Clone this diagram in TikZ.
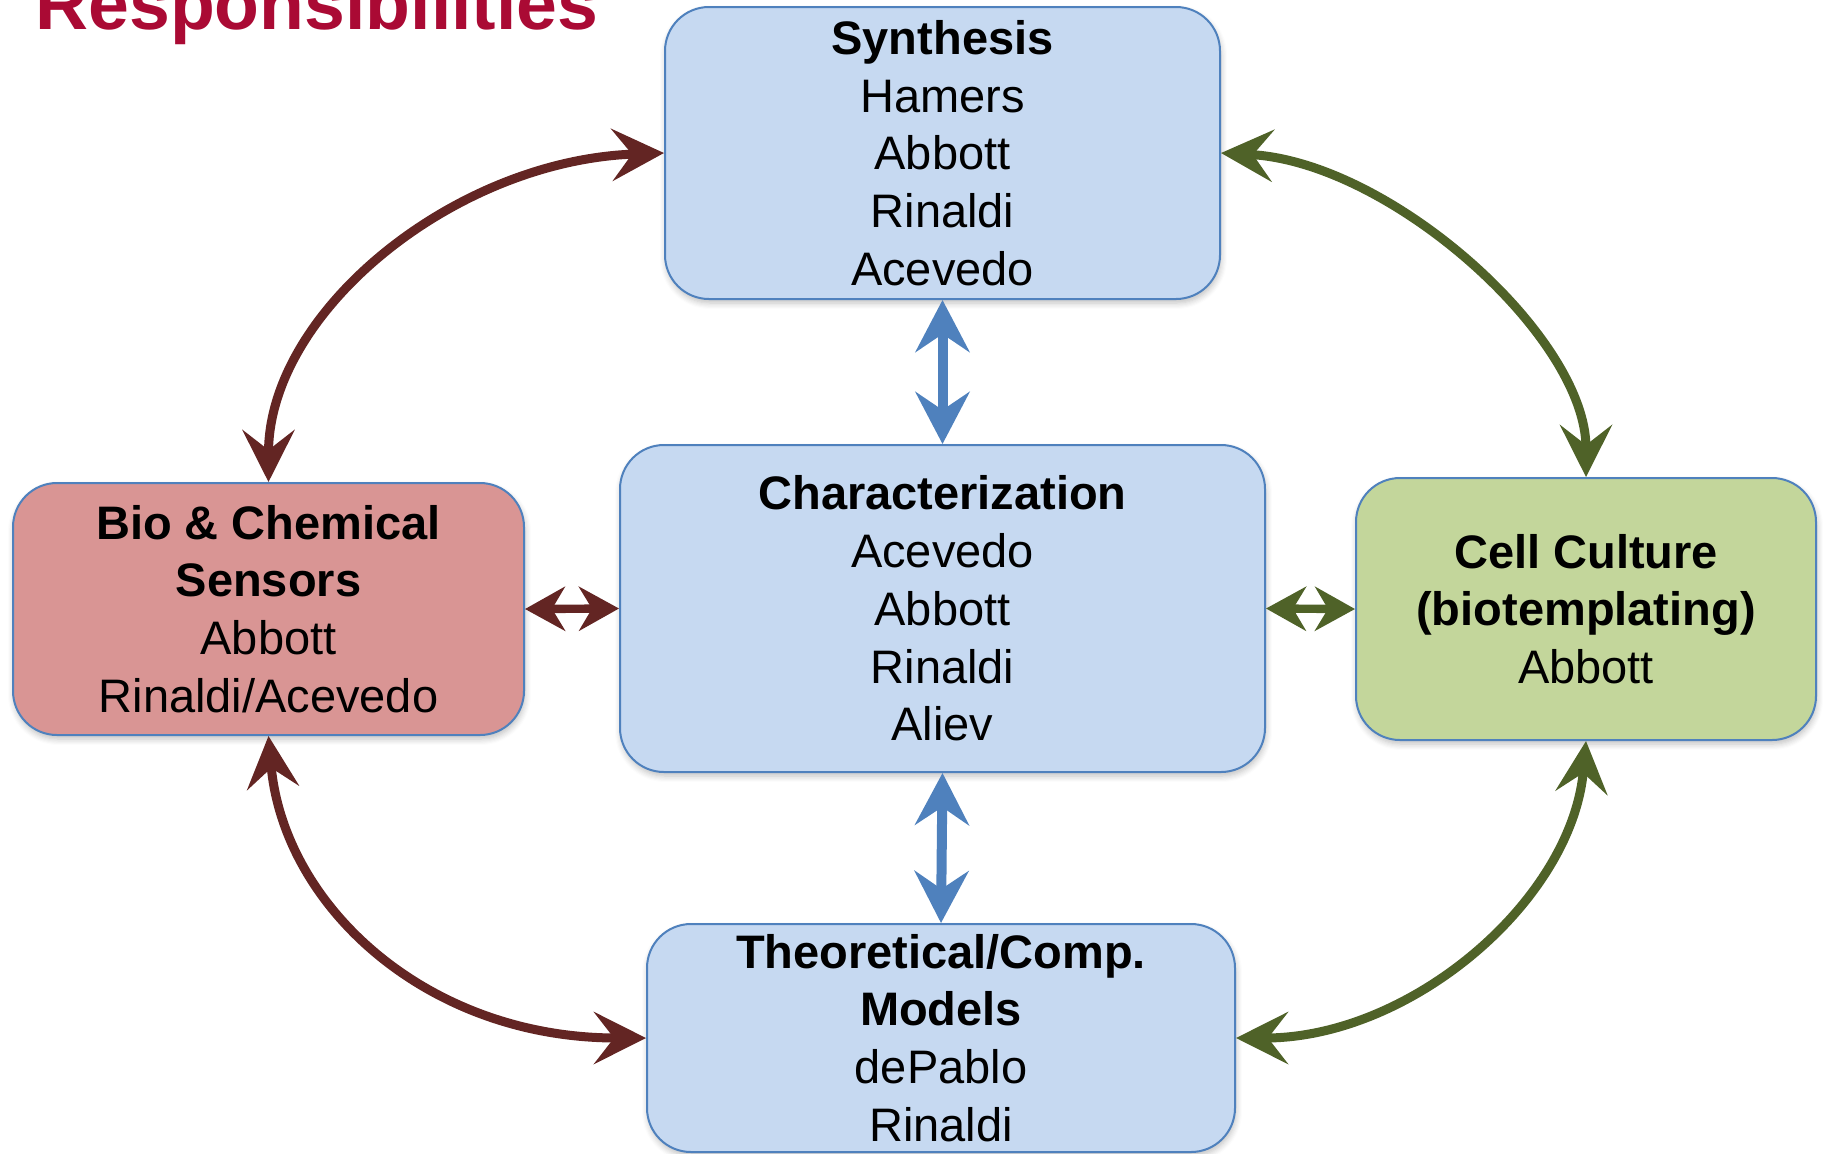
\documentclass[tikz,border=0pt]{standalone}
\usepackage{fontspec}
\setmainfont{Liberation Sans}
\usetikzlibrary{arrows.meta,shadows.blur}
\definecolor{boxblue}{RGB}{198,217,241}
\definecolor{boxedge}{RGB}{79,129,189}
\definecolor{boxred}{RGB}{217,149,148}
\definecolor{boxgreen}{RGB}{195,214,155}
\definecolor{arrred}{RGB}{99,37,35}
\definecolor{arrgreen}{RGB}{79,98,40}
\definecolor{arrblue}{RGB}{79,129,189}
\definecolor{titlered}{RGB}{170,10,52}
\tikzset{
  box/.style={draw=boxedge, line width=1pt, rounded corners=22pt, align=center,
    font=\fontsize{23.5pt}{28.85pt}\selectfont, inner sep=0pt,
    blur shadow={shadow xshift=0.5pt, shadow yshift=-2pt, shadow blur steps=6, shadow opacity=25, shadow blur radius=3pt}},
  bluebox/.style={box, fill=boxblue},
  redbox/.style={box, fill=boxred},
  greenbox/.style={box, fill=boxgreen},
  vlink/.style={draw=arrblue, line width=5pt, {Stealth[length=26pt,width=27pt,inset=9pt]}-{Stealth[length=26pt,width=27pt,inset=9pt]}},
  hlink/.style={draw=#1, line width=4.2pt, {Stealth[length=20pt,width=22pt,inset=6.5pt]}-{Stealth[length=20pt,width=22pt,inset=6.5pt]}},
  clink/.style={draw=#1, line width=4.5pt, {Stealth[length=26pt,width=26pt,inset=10pt]}-{Stealth[length=26pt,width=26pt,inset=10pt]}},
}
\begin{document}
\begin{tikzpicture}[x=0.5pt,y=0.5pt]
\useasboundingbox (0,0) rectangle (1825,-1153);
\node[anchor=base west, inner sep=0pt, text=titlered, font=\fontsize{36.7pt}{40pt}\selectfont\bfseries] (title) at (35,-29) {Responsibilities};

\node[bluebox, minimum width=277.5pt, minimum height=146pt] (synth) at (942.5,-153)
  {\textbf{Synthesis}\\Hamers\\Abbott\\Rinaldi\\Acevedo};
\node[bluebox, minimum width=322.5pt, minimum height=163.5pt] (char) at (942.5,-608.5)
  {\textbf{Characterization}\\Acevedo\\Abbott\\Rinaldi\\Aliev};
\node[redbox, minimum width=255.5pt, minimum height=126pt] (bio) at (268.5,-609)
  {\textbf{Bio \& Chemical}\\\textbf{Sensors}\\Abbott\\Rinaldi/Acevedo};
\node[greenbox, minimum width=230pt, minimum height=131pt] (cell) at (1586,-609)
  {\textbf{Cell Culture}\\\textbf{(biotemplating)}\\Abbott};
\node[bluebox, minimum width=294pt, minimum height=114pt] (theo) at (941,-1038)
  {\textbf{Theoretical/Comp.}\\\textbf{Models}\\dePablo\\Rinaldi};

\draw[vlink] (synth.south) -- (char.north);
\draw[vlink] (char.south) -- (theo.north);
\draw[hlink=arrred] (bio.east) -- (char.west);
\draw[hlink=arrgreen] (char.east) -- (cell.west);

\draw[clink=arrred] (bio.north) .. controls +(90:170) and +(182:210) .. (synth.west);
\draw[clink=arrred] (bio.south) .. controls +(-85:170) and +(180:220) .. (theo.west);
\draw[clink=arrgreen] (synth.east) .. controls +(-3:170) and +(90:140) .. (cell.north);
\draw[clink=arrgreen] (cell.south) .. controls +(-95:160) and +(0:175) .. (theo.east);
\end{tikzpicture}
\end{document}
